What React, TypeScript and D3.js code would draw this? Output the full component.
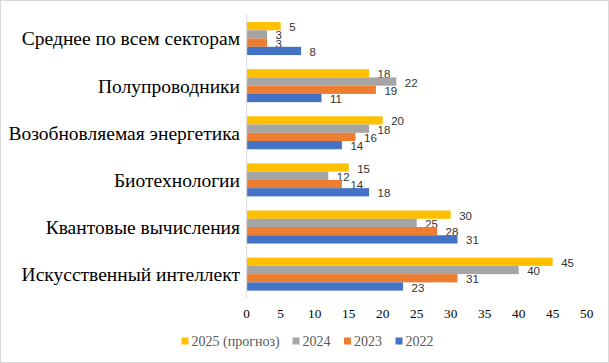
import * as d3 from "d3";
import { useEffect, useRef } from "react";

// categories, top to bottom as drawn
const categories = [
  "Среднее по всем секторам",
  "Полупроводники",
  "Возобновляемая энергетика",
  "Биотехнологии",
  "Квантовые вычисления",
  "Искусственный интеллект",
];

// series, top to bottom inside a group
const seriesNames = ["2025 (прогноз)", "2024", "2023", "2022"];
const seriesColors = ["#FFC000", "#A5A5A5", "#ED7D31", "#4472C4"];

const values2025 = [5, 18, 20, 15, 30, 45];
const values2024 = [3, 22, 18, 12, 25, 40];
const values2023 = [3, 19, 16, 14, 28, 31];
const values2022 = [8, 11, 14, 18, 31, 23];

const xTicks = [0, 5, 10, 15, 20, 25, 30, 35, 40, 45, 50];

const W = 609, H = 363;
const SERIF = "'Liberation Serif', 'Times New Roman', 'DejaVu Serif', serif";
const SANS = "'Liberation Sans', Arial, sans-serif";

const App = () => {
  const ref: any = useRef();

  useEffect(() => {
    document.body.style.margin = "0";
    const svg = d3.select(ref.current);
    svg.selectAll("*").remove();

    const series = [values2025, values2024, values2023, values2022];

    const x = d3.scaleLinear().domain([0, 50]).range([246.7, 586.7]);
    const y = d3.scaleBand()
      .domain(categories)
      .range([15, 297.7])
      .paddingInner(0.3)
      .paddingOuter(0.15);
    const yInner = d3.scaleBand()
      .domain(seriesNames)
      .range([0, y.bandwidth()]);

    // chart border
    svg.append("rect")
      .attr("x", 0.5).attr("y", 0.5)
      .attr("width", W - 1).attr("height", H - 1)
      .attr("fill", "#fff")
      .attr("stroke", "#d9d9d9");

    // bars
    const group = svg.selectAll("g.cat")
      .data(categories)
      .join("g")
        .attr("class", "cat")
        .attr("transform", d => `translate(0,${y(d)})`);

    seriesNames.forEach((name, si) => {
      group.append("rect")
        .attr("x", x(0))
        .attr("y", yInner(name)!)
        .attr("width", (_d, i) => x(series[si][i]) - x(0))
        .attr("height", yInner.bandwidth())
        .attr("fill", seriesColors[si]);

      group.append("text")
        .attr("x", (_d, i) => x(series[si][i]) + 8.5)
        .attr("y", yInner(name)! + yInner.bandwidth() / 2 + 1)
        .attr("dy", "0.35em")
        .style("font-family", SANS)
        .style("font-size", "11.5px")
        .attr("fill", "#333")
        .text((_d, i) => series[si][i]);
    });

    // vertical axis line
    svg.append("line")
      .attr("x1", x(0)).attr("x2", x(0))
      .attr("y1", 14).attr("y2", 298)
      .attr("stroke", "#d9d9d9");

    // category labels
    svg.append("g")
      .selectAll("text")
      .data(categories)
      .join("text")
        .attr("x", 240)
        .attr("y", d => y(d)! + y.bandwidth() / 2)
        .attr("dy", "0.35em")
        .attr("text-anchor", "end")
        .style("font-family", SERIF)
        .style("font-size", "19.5px")
        .attr("fill", "#000")
        .text(d => d);

    // x tick labels
    svg.append("g")
      .selectAll("text")
      .data(xTicks)
      .join("text")
        .attr("x", d => x(d))
        .attr("y", 313)
        .attr("dy", "0.35em")
        .attr("text-anchor", "middle")
        .style("font-family", SERIF)
        .style("font-size", "13.3px")
        .attr("fill", "#000")
        .text(d => d);

    // legend
    const legendX = [181.5, 292.5, 344, 395.5];
    const legend = svg.append("g")
      .selectAll("g")
      .data(seriesNames)
      .join("g")
        .attr("transform", (_d, i) => `translate(${legendX[i]},341)`);
    legend.append("rect")
      .attr("x", 0).attr("y", -3.5)
      .attr("width", 7).attr("height", 7)
      .attr("fill", (_d, i) => seriesColors[i]);
    legend.append("text")
      .attr("x", 10)
      .attr("dy", "0.35em")
      .style("font-family", SERIF)
      .style("font-size", "14px")
      .attr("fill", "#595959")
      .text(d => d);
  }, []);

  return <svg ref={ref} width={W} height={H} style={{ display: "block" }} />;
};

export default App;
